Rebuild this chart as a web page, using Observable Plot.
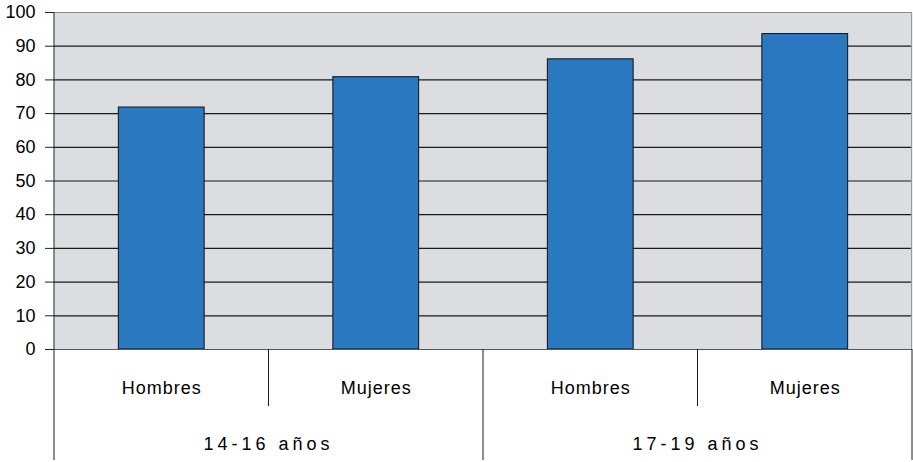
<!DOCTYPE html>
<html><head><meta charset="utf-8">
<script src="https://cdn.jsdelivr.net/npm/d3@7"></script>
<script src="https://cdn.jsdelivr.net/npm/@observablehq/plot@0.6"></script>
<style>body{margin:0;background:#fff} #chart svg{display:block}</style>
</head><body><div id="chart"></div>
<script>
const groups = ["14-16 años", "14-16 años", "17-19 años", "17-19 años"];
const sexes = ["Hombres", "Mujeres", "Hombres", "Mujeres"];
const values = [71.8, 80.8, 86.1, 93.6];
const yTicks = [0, 10, 20, 30, 40, 50, 60, 70, 80, 90, 100];

const data = values.map((v, i) => ({key: groups[i] + "|" + sexes[i], group: groups[i], sex: sexes[i], value: v}));
const keys = data.map(d => d.key);
const font = "'Liberation Sans', Arial, sans-serif";
const ink = "#000";

const plot = Plot.plot({
  width: 913, height: 462,
  marginTop: 12, marginBottom: 113, marginLeft: 54, marginRight: 1,
  style: {fontFamily: font, fontSize: "18px", color: ink, background: "#fff", overflow: "visible"},
  x: {type: "band", domain: keys, paddingInner: 0.6, paddingOuter: 0.3, round: false, axis: null},
  y: {domain: [0, 100]},
  marks: [
    Plot.frame({fill: "#dcdde0", stroke: null}),
    Plot.gridY(yTicks.filter(t => t > 0 && t < 100), {stroke: "#1a1a1a", strokeOpacity: 1, strokeWidth: 1.2}),
    Plot.ruleY([100], {stroke: "#8a8a8a"}),
    Plot.barY(data, {x: "key", y: "value", fill: "#2a78bf", stroke: "#111", strokeWidth: 1}),
    Plot.ruleY([0], {stroke: "#555"}),
    Plot.axisY(yTicks, {tickSize: 9, tickPadding: 10, fontSize: 18, stroke: "#222", fill: ink, label: null})
  ]
});

const xs = plot.scale("x"), ys = plot.scale("y");
const bw = xs.bandwidth;
const step = xs.step ?? bw / (1 - 0.6);
const gap = (step - bw) / 2;
const left = k => xs.apply(k) - gap;
const y0 = ys.apply(0), yTop = ys.apply(100);
const row1 = 57, row2 = 111;
const svg = d3.select(plot);
const g = svg.append("g").attr("stroke", "#1a1a1a").attr("stroke-width", 1).attr("fill", "none");
const x0 = left(keys[0]);
g.append("line").attr("x1", x0).attr("x2", x0).attr("y1", yTop).attr("y2", y0 + row2);
for (let i = 1; i < keys.length; i++) {
  const xb = left(keys[i]);
  const len = groups[i] !== groups[i - 1] ? row2 : row1;
  g.append("line").attr("x1", xb).attr("x2", xb).attr("y1", y0).attr("y2", y0 + len);
}
const xr = left(keys[keys.length - 1]) + step;
g.append("line").attr("x1", xr).attr("x2", xr).attr("y1", y0).attr("y2", y0 + row2);
g.append("line").attr("x1", xr - 0.5).attr("x2", xr - 0.5).attr("y1", yTop).attr("y2", y0).attr("stroke", "#999");

const t = svg.append("g").attr("fill", ink).attr("font-family", font).attr("font-size", 18).attr("text-anchor", "middle");
data.forEach(d => {
  t.append("text").attr("x", xs.apply(d.key) + bw / 2 + 0.5).attr("y", y0 + 39).attr("dy", "0.35em")
    .attr("letter-spacing", "1px").text(d.sex);
});
const uniq = [...new Set(groups)];
uniq.forEach(gr => {
  const ks = data.filter(d => d.group === gr).map(d => d.key);
  const cx = (left(ks[0]) + left(ks[ks.length - 1]) + step) / 2;
  t.append("text").attr("x", cx).attr("y", y0 + 95).attr("dy", "0.35em")
    .attr("letter-spacing", "4px").text(gr);
});

document.getElementById("chart").appendChild(plot);
</script>
</body></html>
